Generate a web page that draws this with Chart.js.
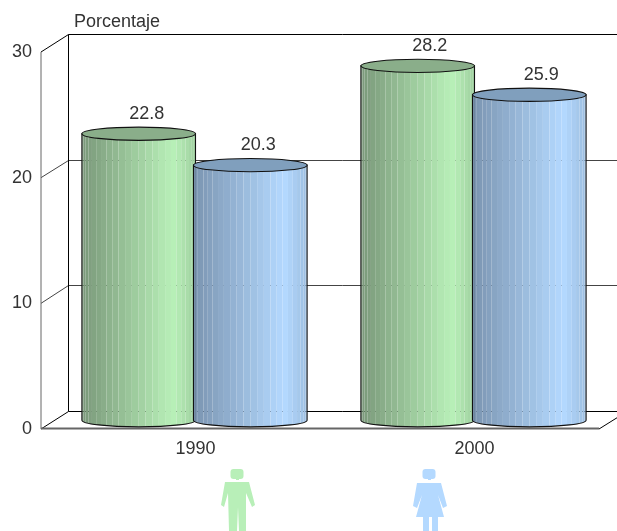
<!DOCTYPE html>
<html>
<head>
<meta charset="utf-8">
<style>
  html, body { margin: 0; padding: 0; background: #fff; }
  #wrap { width: 617px; height: 531px; }
</style>
<script src="https://cdn.jsdelivr.net/npm/chart.js@4"></script>
</head>
<body>
<div id="wrap"><canvas id="barChart"></canvas></div>
<script>
const years = ["1990", "2000"];
const hombres = [22.8, 28.2];
const mujeres = [20.3, 25.9];
const yTicks = [0, 10, 20, 30];
const yTitle = "Porcentaje";

// 3D box depth: the y scale is the front edge, the x scale is mid depth
const depthX = 15;
const depthY = 8.75;
const barShift = -1; // year labels sit 1px right of the cylinder groups
const fontFamily = "'Liberation Sans', Arial, sans-serif";
const textColor = "#333333";

const palette = {
  green: { dark: [122, 152, 122], peak: [184, 240, 184], end: [160, 208, 160], top: "#8aae8a" },
  blue: { dark: [122, 148, 176], peak: [180, 217, 255], end: [156, 190, 224], top: "#809fbd" },
};

// Colour of the cylinder side at position t (0 left, 1 right)
function sideColor(p, t) {
  const peakAt = 0.8;
  const from = t < peakAt ? p.dark : p.peak;
  const to = t < peakAt ? p.peak : p.end;
  const k = t < peakAt ? t / peakAt : (t - peakAt) / (1 - peakAt);
  const c = from.map((v, i) => Math.round(v + (to[i] - v) * k));
  return `rgb(${c[0]},${c[1]},${c[2]})`;
}

function drawCylinder(ctx, bar, p) {
  const cx = bar.x + barShift;
  const r = bar.width / 2;
  const ry = 6.6;
  const left = cx - r;
  const right = cx + r;
  const top = bar.y - depthY;
  const base = bar.base - depthY;

  ctx.save();
  ctx.beginPath();
  ctx.moveTo(left, top);
  ctx.lineTo(left, base);
  ctx.ellipse(cx, base, r, ry, 0, Math.PI, 0, true);
  ctx.lineTo(right, top);
  ctx.closePath();
  ctx.save();
  ctx.clip();
  // vertical strips, narrower towards the edges like a real facetted cylinder
  const strips = 26;
  for (let i = 0; i < strips; i++) {
    const x0 = cx - r * Math.cos((i / strips) * Math.PI);
    const x1 = cx - r * Math.cos(((i + 1) / strips) * Math.PI);
    ctx.fillStyle = sideColor(p, ((x0 + x1) / 2 - left) / bar.width);
    ctx.fillRect(x0, top, x1 - x0, base - top + ry + 1);
  }
  ctx.restore();
  ctx.strokeStyle = "#111111";
  ctx.lineWidth = 1.1;
  ctx.stroke();

  ctx.beginPath();
  ctx.ellipse(cx, top, r, ry, 0, 0, Math.PI * 2);
  ctx.fillStyle = p.top;
  ctx.fill();
  ctx.stroke();
  ctx.restore();
}

function polygon(ctx, pts) {
  ctx.beginPath();
  pts.forEach((pt, i) => (i ? ctx.lineTo(pt[0], pt[1]) : ctx.moveTo(pt[0], pt[1])));
  ctx.closePath();
  ctx.fill();
}

function drawHead(ctx, cx, color) {
  ctx.fillStyle = color;
  ctx.beginPath();
  ctx.roundRect(cx - 6.5, 469, 13, 10, 3);
  ctx.fill();
  ctx.fillRect(cx - 1, 478, 3, 2);
}

// Legend figures, offsets are from the centre of the figure
function drawMan(ctx, cx, color) {
  drawHead(ctx, cx - 1, color);
  const dots = [[-13, 482], [11, 482], [17, 505], [14, 507], [8, 493], [8, 531], [1, 531], [0, 507], [-1, 531], [-9, 531], [-10, 493], [-14, 507], [-17, 505]];
  polygon(ctx, dots.map((d) => [cx + d[0], d[1]]));
}

function drawWoman(ctx, cx, color) {
  drawHead(ctx, cx - 1, color);
  const dots = [[-13, 483], [11, 483], [17, 506], [13, 508], [8, 495], [14, 517], [8, 517], [8, 531], [2, 531], [2, 517], [-1, 517], [-1, 531], [-7, 531], [-7, 517], [-14, 517], [-8, 495], [-13, 508], [-17, 506]];
  polygon(ctx, dots.map((d) => [cx + d[0], d[1]]));
}

// Walls, floor and grid of the fake 3D box
const boxPlugin = {
  id: "box",
  beforeDatasetsDraw(chart) {
    const ctx = chart.ctx;
    const y = chart.scales.y;
    const front = chart.chartArea.left - depthX;
    const back = front + 28 - 0.5;
    const frontRight = chart.chartArea.right - depthX;
    const dy = 2 * depthY;
    const width = chart.width;
    const y0 = y.getPixelForValue(0);
    const y30 = y.getPixelForValue(30);

    ctx.save();
    ctx.lineWidth = 1;
    yTicks.forEach((v) => {
      const py = y.getPixelForValue(v);
      const wallY = Math.floor(py - dy) + 0.5;
      ctx.strokeStyle = v === 0 || v === 30 ? "#000000" : "#444444";
      ctx.beginPath();
      ctx.moveTo(front, py);
      ctx.lineTo(back, wallY);
      ctx.lineTo(width, wallY);
      ctx.stroke();
    });
    ctx.strokeStyle = "#000000";
    ctx.beginPath();
    ctx.moveTo(back, y30 - dy);
    ctx.lineTo(back, y0 - dy);
    ctx.stroke();
    ctx.strokeStyle = "#666666";
    ctx.beginPath();
    ctx.moveTo(front, y30);
    ctx.lineTo(front, y0);
    ctx.stroke();
    ctx.lineWidth = 2;
    ctx.beginPath();
    ctx.moveTo(front, y0 - 0.5);
    ctx.lineTo(frontRight, y0 - 0.5);
    ctx.stroke();
    ctx.lineWidth = 1;
    ctx.strokeStyle = "#000000";
    ctx.beginPath();
    ctx.moveTo(frontRight, y0);
    ctx.lineTo(frontRight + 28, y0 - dy);
    ctx.stroke();
    ctx.restore();
  },
  afterDatasetsDraw(chart) {
    const ctx = chart.ctx;
    chart.data.datasets.forEach((ds, i) => {
      const p = palette[ds.paletteName];
      chart.getDatasetMeta(i).data.forEach((bar) => drawCylinder(ctx, bar, p));
    });

    // value labels sit a little right of the cylinder, more so in the second group
    ctx.save();
    ctx.font = `18px ${fontFamily}`;
    ctx.fillStyle = textColor;
    ctx.textAlign = "center";
    ctx.textBaseline = "middle";
    chart.data.datasets.forEach((ds, i) => {
      chart.getDatasetMeta(i).data.forEach((bar, j) => {
        ctx.fillText(ds.data[j].toFixed(1), bar.x + barShift + 8 + 4 * j, bar.y - depthY - 20);
      });
    });

    ctx.textAlign = "left";
    ctx.fillText(yTitle, 74, 22);
    ctx.restore();

    drawMan(ctx, 238, "#b8efb8");
    drawWoman(ctx, 430, "#b4d9ff");
  },
};

const barChart = new Chart(document.getElementById("barChart").getContext("2d"), {
  type: "bar",
  data: {
    labels: years,
    datasets: [
      { label: "Hombres", data: hombres, backgroundColor: "transparent", paletteName: "green" },
      { label: "Mujeres", data: mujeres, backgroundColor: "transparent", paletteName: "blue" },
    ],
  },
  options: {
    responsive: true,
    maintainAspectRatio: false,
    animation: false,
    layout: { padding: { top: 52, right: 3, left: 0, bottom: 0 } },
    categoryPercentage: 0.8,
    barPercentage: 1.018,
    plugins: { legend: { display: false }, tooltip: { enabled: false } },
    scales: {
      x: {
        grid: { display: false },
        border: { display: false },
        ticks: { color: textColor, font: { size: 18, family: fontFamily }, padding: 1, maxRotation: 0 },
        afterFit(scale) {
          scale.height = 102;
        },
      },
      y: {
        min: 0,
        max: 30,
        grid: { display: false, drawTicks: false },
        border: { display: false },
        ticks: { stepSize: 10, color: textColor, font: { size: 18, family: fontFamily }, padding: 24 },
        afterFit(scale) {
          scale.width = 56;
        },
      },
    },
  },
  plugins: [boxPlugin],
});
</script>
</body>
</html>
